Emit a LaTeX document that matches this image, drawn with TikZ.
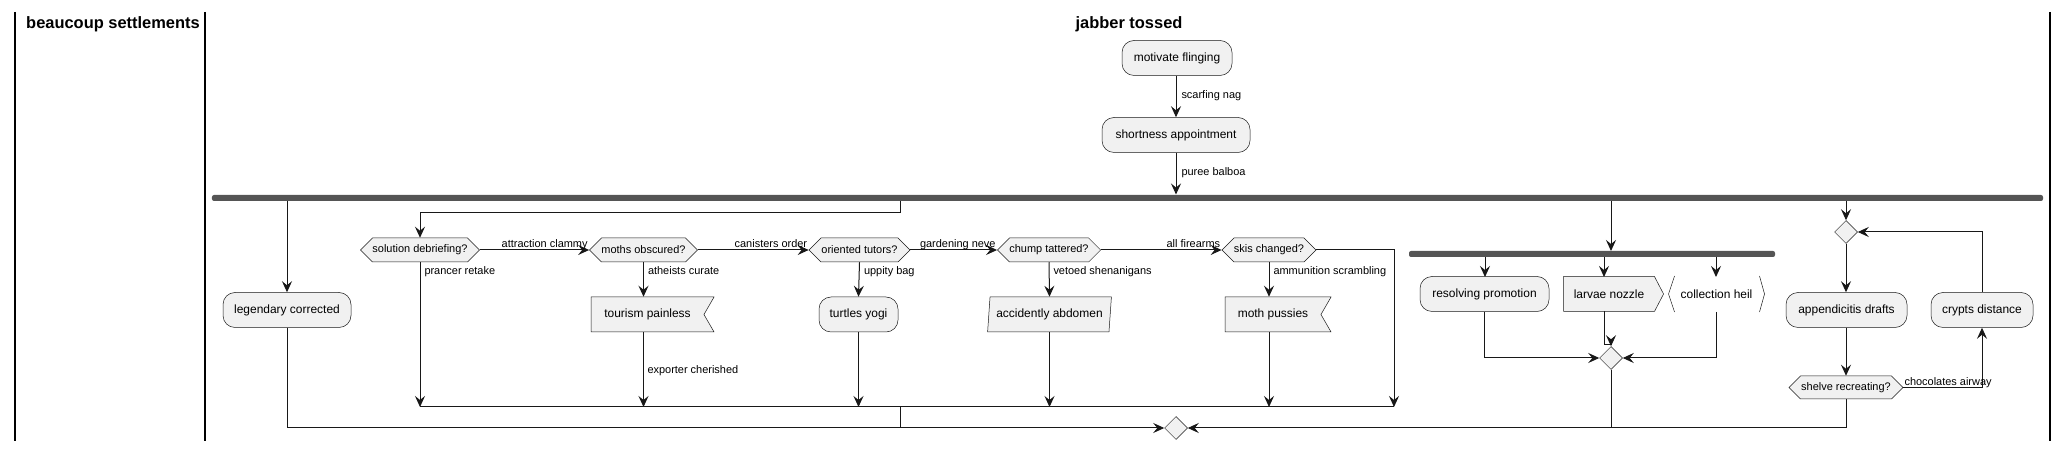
\documentclass[tikz,border=0pt]{standalone}
\usepackage{fontspec}
\setmainfont{Liberation Sans}
\usetikzlibrary{arrows.meta,shapes.symbols,shapes.geometric}
\definecolor{boxfill}{HTML}{F1F1F1}
\definecolor{boxline}{HTML}{181818}
\definecolor{barfill}{HTML}{555555}

\begin{document}
\begin{tikzpicture}[x=1bp,y=-1bp,inner sep=0pt,>={Stealth[length=11bp,width=10bp,inset=4bp]},
  line width=1bp,draw=boxline,
  act/.style={draw=boxline,line width=0.5bp,fill=boxfill,rounded corners=12bp,minimum height=35bp,font=\fontsize{12}{14}\selectfont},
  ask/.style={signal,signal to=east and west,signal pointer angle=90,draw=boxline,line width=0.5bp,fill=boxfill,minimum height=24bp,font=\fontsize{11}{13}\selectfont},
  notchbox/.style={signal,signal to=nowhere,signal from=east,signal pointer angle=120,draw=boxline,line width=0.5bp,fill=boxfill,minimum height=35bp,font=\fontsize{12}{14}\selectfont},
  sendbox/.style={signal,signal to=east,signal pointer angle=125,draw=boxline,line width=0.5bp,fill=boxfill,minimum height=35bp,font=\fontsize{12}{14}\selectfont},
  slantbox/.style={trapezium,trapezium left angle=79,trapezium right angle=101,trapezium stretches=true,draw=boxline,line width=0.5bp,fill=boxfill,minimum height=35bp,font=\fontsize{12}{14}\selectfont},
  merge/.style={diamond,draw=boxline,line width=0.5bp,fill=boxfill,minimum width=23bp,minimum height=23bp},
  bar/.style={fill=barfill,rounded corners=2bp,minimum height=6bp},
  lbl/.style={font=\fontsize{11}{13}\selectfont,anchor=base west},
  title/.style={font=\bfseries\fontsize{16.5}{19}\selectfont},
  lane/.style={line width=1.5bp,draw=black}]
  \useasboundingbox (0,0) rectangle (2067,451);

  \draw[lane] (15,12) -- (15,441);
  \draw[lane] (205,12) -- (205,441);
  \draw[lane] (2050,12) -- (2050,441);
  \node[title] (lane_1) at (113,24) {beaucoup settlements};
  \node[title] (lane_2) at (1129,24) {jabber tossed};

  \node[act,minimum width=110bp] (motivate) at (1177,58) {motivate flinging};
  \node[act,minimum width=148bp] (shortness) at (1176,135) {shortness appointment};
  \node[bar,minimum width=1831bp] (fork) at (1127.5,198) {};
  \draw[->] (motivate.south -| shortness) -- (shortness.north);
  \node[lbl] (l_a) at (1181,99) {scarfing nag};
  \draw[->] (shortness.south) -- (shortness.south |- fork.north);
  \node[lbl] (l_b) at (1181,176) {puree balboa};

  % first branch
  \node[act,minimum width=128bp] (legendary) at (287,310) {legendary corrected};
  \draw[->] (fork.south -| legendary) -- (legendary.north);

  % second branch
  \foreach \i/\x/\w/\t in {1/420/118/solution debriefing?,2/643.5/107/moths obscured?,3/859.5/101/oriented tutors?,4/1049/102/chump tattered?,5/1269/94/skis changed?} {
    \node[ask,minimum width=\w bp] (d_\i) at (\x,250) {\t};
  }
  \foreach \i/\t in {1/attraction clammy,2/canisters order,3/gardening neve,4/all firearms} {
    \pgfmathparse{int(\i+1)}
    \xdef\j{\pgfmathresult}
    \draw[->] (d_\i.east) -- (d_\j.west);
    \node[lbl,anchor=base east] (h_\i) at ([xshift=-1bp,yshift=2bp]d_\j.west) {\t};
  }
  \foreach \i/\t in {1/prancer retake,2/atheists curate,3/uppity bag,4/vetoed shenanigans,5/ammunition scrambling} {
    \node[lbl] (v_\i) at ([xshift=4bp,yshift=-12bp]d_\i.south) {\t};
  }
  \draw[->] (fork.south -| 900,0) -- (900,213) -| (d_1.north);

  \node[notchbox,minimum width=123bp] (tourism) at (647.5,314.5) {tourism painless};
  \node[act,minimum width=79bp] (turtles) at (858.5,314.5) {turtles yogi};
  \node[slantbox,minimum width=124bp] (accident) at (1049.5,314.5) {accidently abdomen};
  \node[notchbox,minimum width=106bp] (pussies) at (1273,314.5) {moth pussies};
  \draw[->] (d_2.south) -- (d_2.south |- tourism.north);
  \draw[->] (d_3.south) -- (turtles.north);
  \draw[->] (d_4.south) -- (accident.north);
  \draw[->] (d_5.south) -- (d_5.south |- pussies.north);

  \coordinate (inner) at (420,407);
  \draw (inner) -- (1394,407);
  \draw[->] (d_1.south) -- (d_1.south |- inner);
  \draw[->] (d_2.south |- tourism.south) -- (d_2.south |- inner);
  \node[lbl] (l_c) at (647,374) {exporter cherished};
  \draw[->] (turtles.south) -- (turtles.south |- inner);
  \draw[->] (accident.south) -- (accident.south |- inner);
  \draw[->] (d_5.south |- pussies.south) -- (d_5.south |- inner);
  \draw[->] (d_5.east) -| (1394,407);

  % join of all branches
  \node[merge] (join) at (1176,428) {};
  \draw[->] (legendary.south) |- (join.west);
  \draw (900,407) -- (900,428);

  % third branch
  \node[bar,minimum width=366bp] (subfork) at (1592,254) {};
  \draw[->] (fork.south -| 1611,0) -- (1611,251);
  \node[act,minimum width=129bp] (resolving) at (1484.5,294) {resolving promotion};
  \node[sendbox,minimum width=100bp] (larvae) at (1609,294) {larvae nozzle};
  \node[minimum width=95bp,minimum height=35bp,font=\fontsize{12}{14}\selectfont] (heil) at (1716.5,294) {collection heil};
  \draw[line width=0.5bp] ([xshift=6bp]heil.north west) -- (heil.west) -- ([xshift=6bp]heil.south west);
  \draw[line width=0.5bp] ([xshift=-5bp]heil.north east) -- (heil.east) -- ([xshift=-5bp]heil.south east);
  \foreach \n/\x in {resolving/1485,larvae/1604,heil/1716} {
    \draw[->] (\x,257) -- (\x,277);
  }
  \node[merge] (subjoin) at (1611,358) {};
  \draw[->] (resolving.south) |- (subjoin.west);
  \draw[->] (1604,311.5) -- (1604,345) -- (1611,345) -- (subjoin.north);
  \draw[->] (heil.south) |- (subjoin.east);
  \draw (subjoin.south) -- (1611,428);

  % fourth branch
  \node[merge] (loop) at (1846,232) {};
  \node[act,minimum width=121bp] (appendix) at (1846.5,310) {appendicitis drafts};
  \node[ask,minimum width=114bp,minimum height=23bp] (shelve) at (1846,387.5) {shelve recreating?};
  \node[act,minimum width=102bp] (crypts) at (1982,310) {crypts distance};
  \draw[->] (fork.south -| loop) -- (loop.north);
  \draw[->] (loop.south) -- (appendix.north -| loop);
  \draw[->] (appendix.south -| loop) -- (shelve.north);
  \draw[->] (shelve.east) -| (crypts.south);
  \node[lbl] (l_d) at (1904,386) {chocolates airway};
  \draw[->] (crypts.north) |- (loop.east);
  \draw[->] (shelve.south) |- (join.east);
\end{tikzpicture}
\end{document}
